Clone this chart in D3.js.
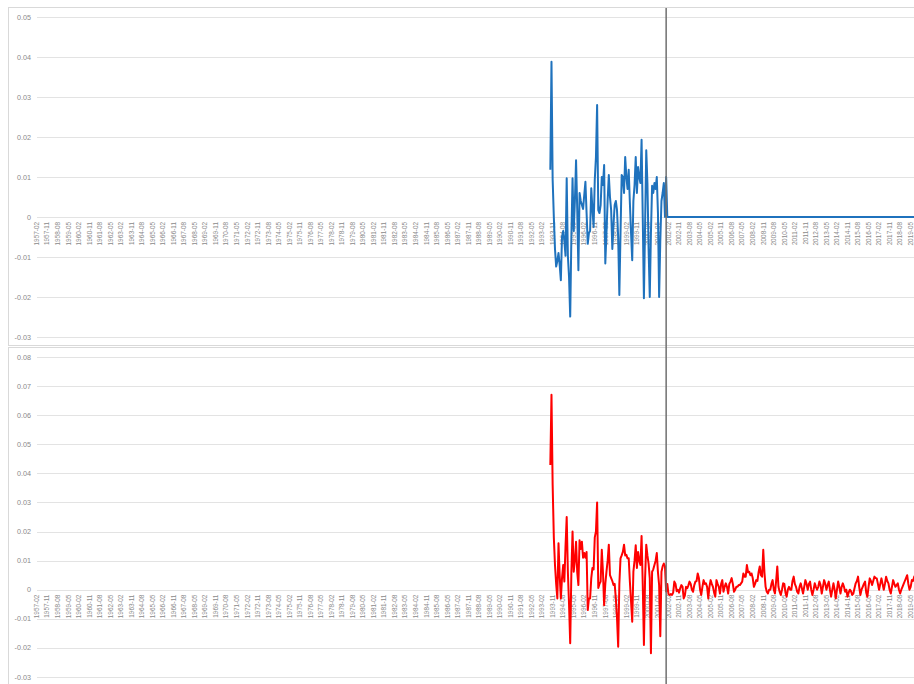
<!DOCTYPE html>
<html>
<head>
<meta charset="utf-8">
<script src="https://cdn.jsdelivr.net/npm/d3@7/dist/d3.min.js"></script>
<style>
  html, body { margin: 0; padding: 0; background: #ffffff; }
  svg { display: block; }
  text { font-family: "Liberation Sans", Arial, sans-serif; }
</style>
</head>
<body>
<svg id="chart" width="914" height="684"></svg>
<script>
// ---------- DATA ----------
const firstMonth = "1957-02";
const lastMonth = "2019-09";
const seriesStartMonth = "1993-09";
const labelEvery = 9;
const markerMonth = "2001-12";

const topYTicks = [-0.03, -0.02, -0.01, 0, 0.01, 0.02, 0.03, 0.04, 0.05];
const bottomYTicks = [-0.03, -0.02, -0.01, 0, 0.01, 0.02, 0.03, 0.04, 0.05, 0.06, 0.07, 0.08];

// blue series, monthly from 1993-09
const blueValues = [
  0.0118, 0.0388, 0.0093, 0.0, -0.008, -0.0124, -0.011, -0.009, -0.012, -0.0158,
  -0.0049, -0.0035, -0.006, -0.0097, 0.0097, -0.0097, -0.015, -0.0249, -0.005, 0.0097,
  -0.0035, 0.004, 0.0142, 0.002, -0.0133, 0.006, 0.004, 0.003, 0.002, 0.0055,
  0.0088, 0.001, -0.0067, -0.004, -0.0035, 0.0072, 0.002, -0.0025, 0.0093, 0.015,
  0.028, 0.0017, 0.001, 0.003, 0.010, 0.008, 0.013, -0.0116, -0.004, 0.0042,
  0.0105, 0.005, 0.0017, -0.008, -0.002, 0.003, 0.004, 0.0017, -0.005, -0.0195,
  -0.004, 0.0105, 0.01, 0.006, 0.015, 0.01, 0.007, 0.0118, 0.0035, -0.004,
  -0.0108, 0.004, 0.008, 0.015, 0.006, 0.0125, 0.01, 0.0085, 0.0193, 0.0,
  -0.0203, -0.002, 0.0167, 0.0085, -0.008, -0.02, -0.004, 0.0078, 0.006, 0.0085,
  0.007, 0.01, 0.001, -0.02, -0.006, 0.004, 0.006, 0.0085, 0, 0.01,
  0,
  0,0,0,0,0,0,0,0,0,0, 0,0,0,0,0,0,0,0,0,0, 0,0,0,0,0,0,0,0,0,0, 0,0,0,0,0,0,0,0,0,0,
  0,0,0,0,0,0,0,0,0,0, 0,0,0,0,0,0,0,0,0,0, 0,0,0,0,0,0,0,0,0,0, 0,0,0,0,0,0,0,0,0,0,
  0,0,0,0,0,0,0,0,0,0, 0,0,0,0,0,0,0,0,0,0, 0,0,0,0,0,0,0,0,0,0, 0,0,0,0,0,0,0,0,0,0,
  0,0,0,0,0,0,0,0,0,0, 0,0,0,0,0,0,0,0,0,0, 0,0,0,0,0,0,0,0,0,0, 0,0,0,0,0,0,0,0,0,0,
  0,0,0,0,0,0,0,0,0,0, 0,0,0,0,0,0,0,0,0,0, 0,0,0,0,0,0,0,0,0,0, 0,0,0,0,0,0,0,0,0,0,
  0,0,0,0,0,0,0,0,0,0, 0,0
];

// red series, monthly from 1993-09
const redValues = [
  0.0429, 0.067, 0.036, 0.018, 0.0085, 0.002, -0.003, 0.016, 0.005, -0.003,
  0.004, 0.0085, 0.0028, 0.015, 0.025, 0.0062, -0.005, -0.0184, 0.006, 0.02,
  0.0062, 0.01, 0.0165, 0.006, 0.0016, 0.017, 0.014, 0.0165, 0.011, 0.0126,
  0.011, 0.013, -0.007, -0.003, -0.003, 0.004, 0.0075, 0.007, 0.018, 0.02,
  0.030, 0.0006, 0.002, 0.0028, 0.0137, 0.006, -0.0053, 0.002, 0.0062, 0.01,
  0.0155, 0.005, 0.004, 0.003, 0.0016, 0.002, -0.003, -0.0097, -0.0196, 0.002,
  0.0108, 0.0118, 0.013, 0.0155, 0.0118, 0.012, 0.0108, 0.0108, 0.0028, -0.004,
  -0.011, 0.0062, 0.01, 0.0153, 0.0075, 0.013, 0.01, 0.0085, 0.0185, 0.002,
  -0.019, 0.004, 0.0155, 0.0118, 0.009, 0.004, -0.0218, 0.0062, 0.007, 0.0085,
  0.01, 0.0126, 0.006, 0.0016, -0.016, 0.0062, 0.008, 0.009, 0.008, -0.0006,
  0.002,
  -0.0015, -0.0018, -0.0015, -0.0018, -0.001, 0.0028, 0.002, -0.0005, 0.0, -0.001,
  0.0005, 0.0016, 0.001, -0.003, -0.002, 0.001, 0.0005, 0.0015, 0.0028, 0.002,
  0.0, -0.0007, 0.0015, 0.0028, 0.003, 0.0056, 0.004, 0.0, -0.0018, 0.001,
  0.0033, 0.002, 0.0022, 0.001, -0.003, 0.001, 0.0033, 0.002, 0.001, -0.001,
  -0.0024, 0.0033, 0.002, 0.001, -0.0013, 0.002, 0.0033, -0.0007, 0.001, 0.0022,
  0.001, -0.0013, 0.002, 0.0028, 0.004, 0.002, -0.0007, 0.0, 0.001, 0.001,
  0.0016, 0.0016, 0.0022, 0.0028, 0.0056, 0.0045, 0.0045, 0.0085, 0.006, 0.0062,
  0.005, 0.0056, 0.004, 0.001, 0.002, 0.0033, 0.003, 0.006, 0.008, 0.005,
  0.0045, 0.0137, 0.006, 0.001, -0.0007, -0.0013, 0.0, 0.0, 0.002, 0.0033,
  0.0, -0.0013, 0.003, 0.008, 0.001, -0.0007, -0.0018, 0.0, 0.0022, 0.002,
  -0.001, -0.0024, 0.0, 0.001, 0.0, 0.0, 0.003, 0.0045, 0.002, 0.001,
  -0.0007, -0.0013, 0.001, 0.0022, 0.0005, -0.0013, 0.001, 0.0033, 0.002, 0.0,
  0.002, 0.0028, 0.0, -0.0018, 0.0, 0.0022, 0.001, 0.0, 0.001, 0.0028,
  0.0016, -0.0013, 0.001, 0.0033, 0.002, 0.0, 0.0016, 0.0028, 0.0, -0.0024,
  0.0, 0.0022, 0.0, -0.003, 0.0, 0.0028, 0.001, -0.0013, 0.001, 0.0022,
  0.001, -0.0007, 0.0, -0.0024, -0.001, 0.0, -0.0005, -0.0018, -0.0013, 0.0005,
  0.0022, 0.003, 0.0045, 0.001, -0.0018, 0.0, 0.001, 0.002, 0.0028, -0.001,
  -0.0024, 0.001, 0.0039, 0.003, 0.0016, 0.003, 0.0045, 0.004, 0.0039, 0.002,
  0.0, 0.002, 0.0039, 0.002, 0.0, 0.002, 0.0045, 0.003, 0.0022, 0.0,
  -0.0013, 0.001, 0.0033, 0.002, 0.001, 0.0016, 0.0022, 0.0, -0.0013, 0.0,
  0.001, 0.002, 0.003, 0.004, 0.005, 0.002, 0.0, 0.001, 0.0033, 0.003,
  0.0045, 0.003
];

// ---------- BUILD ----------
const parseM = d3.timeParse("%Y-%m");
const fmtM = d3.timeFormat("%Y-%m");
const months = d3.timeMonth.range(parseM(firstMonth), d3.timeMonth.offset(parseM(lastMonth), 1)).map(fmtM);
const startIdx = months.indexOf(seriesStartMonth);

function toRows(vals) {
  return months.map((m, i) => {
    const k = i - startIdx;
    return { m, v: (k >= 0 && k < vals.length) ? vals[k] : null };
  });
}
const blueRows = toRows(blueValues);
const redRows = toRows(redValues);

const svg = d3.select("#chart");
const W = 914, H = 684;

const x = d3.scaleBand().domain(months).range([36.1, 36.1 + months.length * 1.17]);
const cx = m => x(m) + x.bandwidth() / 2;

const gridColor = "#e3e3e3";
const textColor = "#8a8a8a";
const frameColor = "#d9d9d9";

// frames
svg.append("rect").attr("x", 8.5).attr("y", 7.5).attr("width", W + 10).attr("height", 338)
  .attr("fill", "none").attr("stroke", frameColor);
svg.append("rect").attr("x", 8.5).attr("y", 347.5).attr("width", W + 10).attr("height", 345)
  .attr("fill", "none").attr("stroke", frameColor);

const tickMonths = months.filter((m, i) => i % labelEvery === 0);

function panel(yDomain, yRange, ticks, rows, color) {
  const y = d3.scaleLinear().domain(yDomain).range(yRange);
  const g = svg.append("g");
  // gridlines
  g.append("g").selectAll("line").data(ticks).join("line")
    .attr("x1", 37).attr("x2", W)
    .attr("y1", d => Math.round(y(d)) + 0.5).attr("y2", d => Math.round(y(d)) + 0.5)
    .attr("stroke", gridColor).attr("stroke-width", 1);
  // y labels
  g.append("g").selectAll("text").data(ticks).join("text")
    .attr("x", 31).attr("y", d => y(d)).attr("dy", "0.35em")
    .attr("text-anchor", "end").attr("font-size", 7.2).attr("fill", textColor)
    .text(d => d === 0 ? "0" : d.toFixed(2));
  // x labels at zero crossing
  const y0 = y(0);
  g.append("g").selectAll("text").data(tickMonths).join("text")
    .attr("transform", d => `translate(${cx(d)},${y0 + 5}) rotate(-90)`)
    .attr("text-anchor", "end").attr("dy", "0.35em")
    .attr("font-size", 6.4).attr("fill", textColor)
    .text(d => d);
  // line
  const line = d3.line().defined(d => d.v !== null).x(d => cx(d.m)).y(d => y(d.v));
  g.append("path").datum(rows).attr("d", line)
    .attr("fill", "none").attr("stroke", color).attr("stroke-width", 2)
    .attr("stroke-linejoin", "round");
}

panel([-0.03, 0.05], [337, 17], topYTicks, blueRows, "#1f72bd");
panel([-0.03, 0.08], [677, 357], bottomYTicks, redRows, "#ff0000");

// vertical marker line
svg.append("line")
  .attr("x1", cx(markerMonth)).attr("x2", cx(markerMonth))
  .attr("y1", 8).attr("y2", H)
  .attr("stroke", "#6f6f6f").attr("stroke-width", 1.5);
</script>
</body>
</html>
